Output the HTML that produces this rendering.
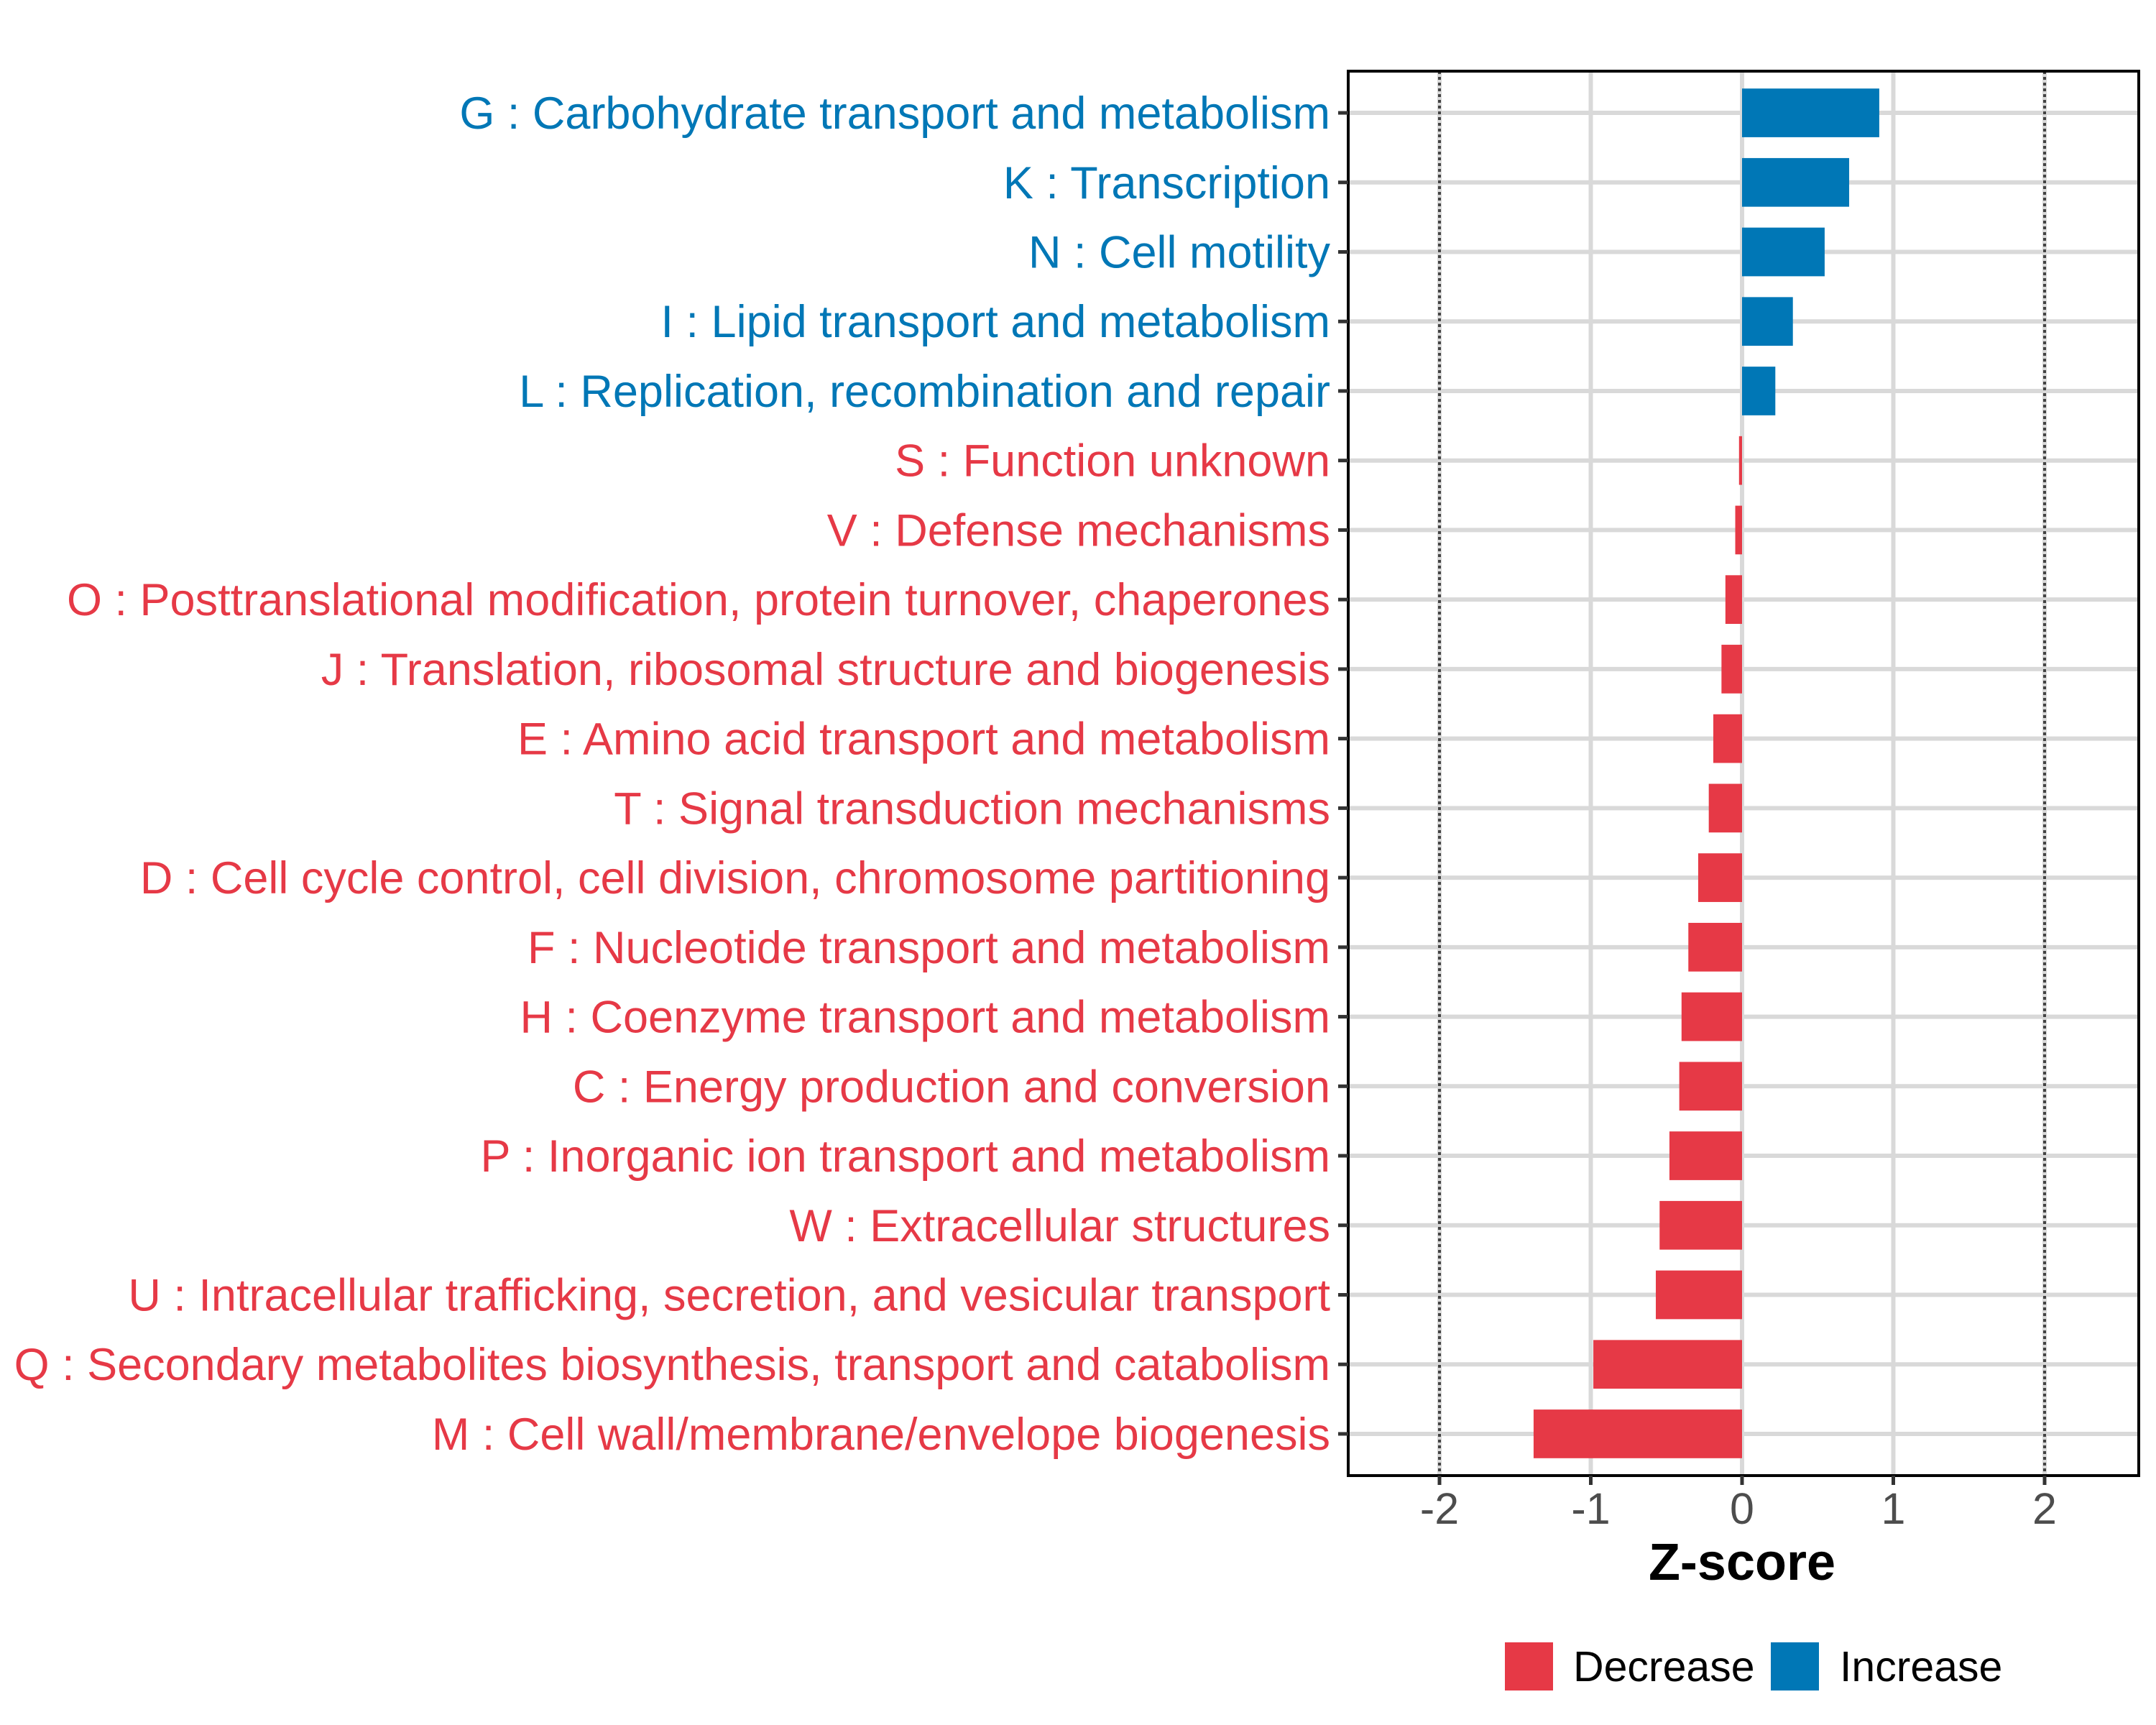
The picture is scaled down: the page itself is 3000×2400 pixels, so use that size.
<!DOCTYPE html>
<html><head><meta charset="utf-8"><style>
html,body{margin:0;padding:0;background:#fff;}
svg{display:block;font-family:"Liberation Sans",Arial,sans-serif;}
</style></head><body>
<svg id="chart" width="3000" height="2400" viewBox="0 0 3000 2400" xmlns="http://www.w3.org/2000/svg">
<rect width="3000" height="2400" fill="#fff"/>
<g id="grid"></g><g id="bars"></g><g id="axes"></g>
</svg>
<script>
const categories = ["G : Carbohydrate transport and metabolism","K : Transcription","N : Cell motility","I : Lipid transport and metabolism","L : Replication, recombination and repair","S : Function unknown","V : Defense mechanisms","O : Posttranslational modification, protein turnover, chaperones","J : Translation, ribosomal structure and biogenesis","E : Amino acid transport and metabolism","T : Signal transduction mechanisms","D : Cell cycle control, cell division, chromosome partitioning","F : Nucleotide transport and metabolism","H : Coenzyme transport and metabolism","C : Energy production and conversion","P : Inorganic ion transport and metabolism","W : Extracellular structures","U : Intracellular trafficking, secretion, and vesicular transport","Q : Secondary metabolites biosynthesis, transport and catabolism","M : Cell wall/membrane/envelope biogenesis"];
const zscores = [0.907,0.708,0.546,0.336,0.22,-0.02,-0.045,-0.11,-0.136,-0.19,-0.22,-0.29,-0.355,-0.40,-0.415,-0.48,-0.545,-0.57,-0.983,-1.378];
const xTicks = [-2,-1,0,1,2];
const xTickLabels = ["-2","-1","0","1","2"];
const refLines = [-2,2];
const legendLabels = ["Decrease","Increase"];

const NS="http://www.w3.org/2000/svg";
const BLUE="#0077B6", RED="#E63946";
const L=1876,R=2976,T=99,B=2053;
const x0=2424, unit=210.5;
const xs=v=>x0+v*unit;
const rowH=(B-T)/20.2;
const ys=i=>T+(0.6+i)*rowH;
function mk(tag,attrs,parent){const e=document.createElementNS(NS,tag);for(const k in attrs)e.setAttribute(k,attrs[k]);parent.appendChild(e);return e;}
const grid=document.getElementById('grid'),bars=document.getElementById('bars'),axes=document.getElementById('axes');
mk('rect',{x:L,y:T,width:R-L,height:B-T,fill:'#fff'},grid);
xTicks.forEach(v=>{const g=mk('line',{x1:xs(v),x2:xs(v),y1:T,y2:B,stroke:'#D9D9D9','stroke-width':6},grid);

});
categories.forEach((c,i)=>{const g=mk('line',{x1:L,x2:R,y1:ys(i),y2:ys(i),stroke:'#D9D9D9','stroke-width':6},grid);

});
refLines.forEach(v=>{const g=mk('line',{x1:xs(v),x2:xs(v),y1:T,y2:B,stroke:'#444','stroke-width':4,'stroke-dasharray':'4 4'},grid);

});
const bh=rowH*0.7;
zscores.forEach((v,i)=>{const a=Math.min(xs(0),xs(v)),w=Math.abs(xs(v)-xs(0));
const r=mk('rect',{x:a,y:ys(i)-bh/2,width:Math.max(w,2),height:bh,fill:v>=0?BLUE:RED},bars);

});
mk('rect',{x:L,y:T,width:R-L,height:B-T,fill:'none',stroke:'#000','stroke-width':4},axes);
categories.forEach((c,i)=>{
mk('line',{x1:L-14,x2:L,y1:ys(i),y2:ys(i),stroke:'#333','stroke-width':5},axes);
const t=mk('text',{x:1851,y:ys(i)+22,'text-anchor':'end','font-size':63,fill:zscores[i]>=0?BLUE:RED},axes);
t.textContent=c;

});
xTicks.forEach((v,i)=>{
mk('line',{x1:xs(v),x2:xs(v),y1:B,y2:B+13,stroke:'#333','stroke-width':5},axes);
const t=mk('text',{x:xs(v),y:B+67,'text-anchor':'middle','font-size':61,fill:'#4D4D4D'},axes);
t.textContent=xTickLabels[i];

});
const xt=mk('text',{x:xs(0),y:2198,'text-anchor':'middle','font-size':72,'font-weight':'bold',fill:'#000'},axes);
xt.textContent='Z-score';


const lg=[{x:2094,tx:2189,c:RED},{x:2464,tx:2560,c:BLUE}];
lg.forEach((o,i)=>{
const k=mk('rect',{x:o.x,y:2285,width:67,height:67,fill:o.c},axes);


const t=mk('text',{x:o.tx,y:2339,'font-size':59,fill:'#000'},axes);
t.textContent=legendLabels[i];

});
</script>
</body></html>
